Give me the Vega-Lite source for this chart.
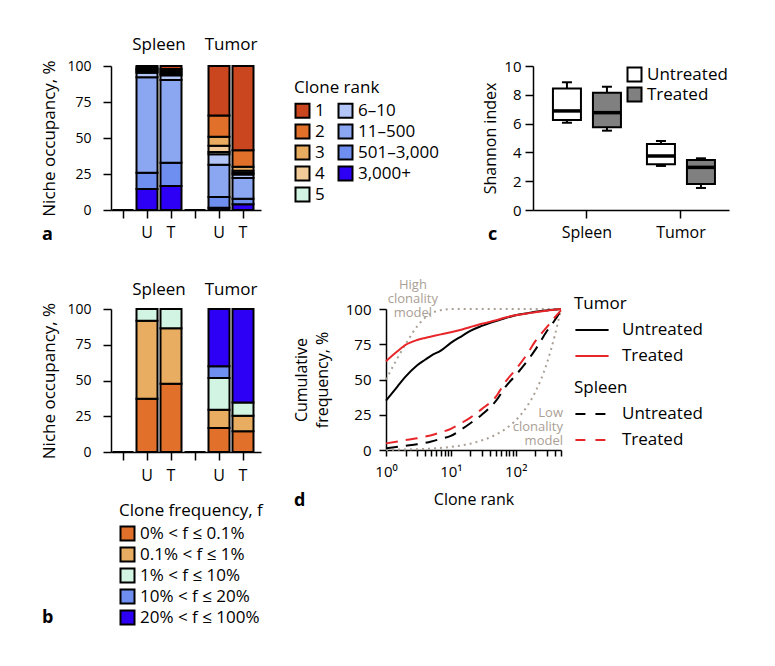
{
  "$schema": "https://vega.github.io/schema/vega-lite/v6.json",
  "background": "white",
  "padding": {"left": 40, "top": 36, "right": 5, "bottom": 5},
  "bounds": "flush",
  "spacing": 243,
  "config": {
    "font": "Open Sans",
    "view": {"stroke": null},
    "axis": {"labelFont": "Open Sans", "titleFont": "Open Sans", "labelFontSize": 14, "titleFontSize": 16, "titleFontWeight": "normal", "labelColor": "black", "titleColor": "black", "domainColor": "black", "tickColor": "black", "domainWidth": 1.5, "tickWidth": 1.5, "grid": false},
    "legend": {"labelFont": "Open Sans", "titleFont": "Open Sans", "labelFontSize": 16, "titleFontSize": 16, "titleFontWeight": "normal", "labelColor": "black", "titleColor": "black"},
    "title": {"font": "Open Sans", "fontSize": 18, "fontWeight": "bold", "color": "black"},
    "text": {"font": "Open Sans", "color": "black"}
  },
  "datasets": {
    "rankOcc": [
      {"slot": 1, "rank": "1", "k": 9, "v": 0},
      {"slot": 4, "rank": "1", "k": 9, "v": 0},
      {"slot": 2, "rank": "3,000+", "k": 1, "v": 14.5},
      {"slot": 2, "rank": "501–3,000", "k": 2, "v": 11.4},
      {"slot": 2, "rank": "11–500", "k": 3, "v": 66.3},
      {"slot": 2, "rank": "6–10", "k": 4, "v": 3.1},
      {"slot": 2, "rank": "5", "k": 5, "v": 0.9},
      {"slot": 2, "rank": "4", "k": 6, "v": 0.9},
      {"slot": 2, "rank": "3", "k": 7, "v": 0.9},
      {"slot": 2, "rank": "2", "k": 8, "v": 1.0},
      {"slot": 2, "rank": "1", "k": 9, "v": 1.0},
      {"slot": 3, "rank": "3,000+", "k": 1, "v": 16.6},
      {"slot": 3, "rank": "501–3,000", "k": 2, "v": 16.2},
      {"slot": 3, "rank": "11–500", "k": 3, "v": 57.5},
      {"slot": 3, "rank": "6–10", "k": 4, "v": 3.2},
      {"slot": 3, "rank": "5", "k": 5, "v": 1.1},
      {"slot": 3, "rank": "4", "k": 6, "v": 1.1},
      {"slot": 3, "rank": "3", "k": 7, "v": 1.1},
      {"slot": 3, "rank": "2", "k": 8, "v": 1.2},
      {"slot": 3, "rank": "1", "k": 9, "v": 2.0},
      {"slot": 5, "rank": "3,000+", "k": 1, "v": 1.5},
      {"slot": 5, "rank": "501–3,000", "k": 2, "v": 7.5},
      {"slot": 5, "rank": "11–500", "k": 3, "v": 22.5},
      {"slot": 5, "rank": "6–10", "k": 4, "v": 7.2},
      {"slot": 5, "rank": "5", "k": 5, "v": 1.6},
      {"slot": 5, "rank": "4", "k": 6, "v": 4.3},
      {"slot": 5, "rank": "3", "k": 7, "v": 6.3},
      {"slot": 5, "rank": "2", "k": 8, "v": 14.8},
      {"slot": 5, "rank": "1", "k": 9, "v": 34.3},
      {"slot": 6, "rank": "3,000+", "k": 1, "v": 4.0},
      {"slot": 6, "rank": "501–3,000", "k": 2, "v": 3.8},
      {"slot": 6, "rank": "11–500", "k": 3, "v": 14.5},
      {"slot": 6, "rank": "6–10", "k": 4, "v": 2.4},
      {"slot": 6, "rank": "5", "k": 5, "v": 1.0},
      {"slot": 6, "rank": "4", "k": 6, "v": 1.5},
      {"slot": 6, "rank": "3", "k": 7, "v": 2.9},
      {"slot": 6, "rank": "2", "k": 8, "v": 11.4},
      {"slot": 6, "rank": "1", "k": 9, "v": 58.5}
    ],
    "freqOcc": [
      {"slot": 1, "f": "0% < f ≤ 0.1%", "k": 1, "v": 0},
      {"slot": 4, "f": "0% < f ≤ 0.1%", "k": 1, "v": 0},
      {"slot": 2, "f": "0% < f ≤ 0.1%", "k": 1, "v": 37.3},
      {"slot": 2, "f": "0.1% < f ≤ 1%", "k": 2, "v": 54.5},
      {"slot": 2, "f": "1% < f ≤ 10%", "k": 3, "v": 8.2},
      {"slot": 3, "f": "0% < f ≤ 0.1%", "k": 1, "v": 47.8},
      {"slot": 3, "f": "0.1% < f ≤ 1%", "k": 2, "v": 38.7},
      {"slot": 3, "f": "1% < f ≤ 10%", "k": 3, "v": 13.5},
      {"slot": 5, "f": "0% < f ≤ 0.1%", "k": 1, "v": 16.8},
      {"slot": 5, "f": "0.1% < f ≤ 1%", "k": 2, "v": 12.8},
      {"slot": 5, "f": "1% < f ≤ 10%", "k": 3, "v": 22.1},
      {"slot": 5, "f": "10% < f ≤ 20%", "k": 4, "v": 8.2},
      {"slot": 5, "f": "20% < f ≤ 100%", "k": 5, "v": 40.1},
      {"slot": 6, "f": "0% < f ≤ 0.1%", "k": 1, "v": 14.5},
      {"slot": 6, "f": "0.1% < f ≤ 1%", "k": 2, "v": 10.9},
      {"slot": 6, "f": "1% < f ≤ 10%", "k": 3, "v": 9.3},
      {"slot": 6, "f": "20% < f ≤ 100%", "k": 5, "v": 65.3}
    ],
    "headers": [
      {"slot": 2, "label": "Spleen"},
      {"slot": 5, "label": "Tumor"}
    ],
    "shannon": [
      {"tissue": "Spleen", "cond": "Untreated", "lo": 6.06, "q1": 6.25, "med": 6.88, "q3": 8.43, "hi": 8.87},
      {"tissue": "Spleen", "cond": "Treated", "lo": 5.51, "q1": 5.74, "med": 6.76, "q3": 8.15, "hi": 8.56},
      {"tissue": "Tumor", "cond": "Untreated", "lo": 3.06, "q1": 3.17, "med": 3.75, "q3": 4.58, "hi": 4.79},
      {"tissue": "Tumor", "cond": "Treated", "lo": 1.53, "q1": 1.81, "med": 2.96, "q3": 3.47, "hi": 3.59}
    ],
    "cumfreq": [
      {"series": "TU", "tissue": "Tumor", "cond": "Untreated", "rank": 1, "cum": 35},
      {"series": "TU", "tissue": "Tumor", "cond": "Untreated", "rank": 1.5, "cum": 45},
      {"series": "TU", "tissue": "Tumor", "cond": "Untreated", "rank": 2, "cum": 52},
      {"series": "TU", "tissue": "Tumor", "cond": "Untreated", "rank": 3, "cum": 60},
      {"series": "TU", "tissue": "Tumor", "cond": "Untreated", "rank": 4, "cum": 64},
      {"series": "TU", "tissue": "Tumor", "cond": "Untreated", "rank": 5, "cum": 67},
      {"series": "TU", "tissue": "Tumor", "cond": "Untreated", "rank": 7, "cum": 70.5},
      {"series": "TU", "tissue": "Tumor", "cond": "Untreated", "rank": 10, "cum": 76},
      {"series": "TU", "tissue": "Tumor", "cond": "Untreated", "rank": 15, "cum": 81},
      {"series": "TU", "tissue": "Tumor", "cond": "Untreated", "rank": 20, "cum": 84.5},
      {"series": "TU", "tissue": "Tumor", "cond": "Untreated", "rank": 30, "cum": 88},
      {"series": "TU", "tissue": "Tumor", "cond": "Untreated", "rank": 50, "cum": 91.5},
      {"series": "TU", "tissue": "Tumor", "cond": "Untreated", "rank": 70, "cum": 93.6},
      {"series": "TU", "tissue": "Tumor", "cond": "Untreated", "rank": 100, "cum": 95.5},
      {"series": "TU", "tissue": "Tumor", "cond": "Untreated", "rank": 150, "cum": 97},
      {"series": "TU", "tissue": "Tumor", "cond": "Untreated", "rank": 200, "cum": 98},
      {"series": "TU", "tissue": "Tumor", "cond": "Untreated", "rank": 300, "cum": 99},
      {"series": "TU", "tissue": "Tumor", "cond": "Untreated", "rank": 500, "cum": 100},
      {"series": "TT", "tissue": "Tumor", "cond": "Treated", "rank": 1, "cum": 63},
      {"series": "TT", "tissue": "Tumor", "cond": "Treated", "rank": 1.5, "cum": 70},
      {"series": "TT", "tissue": "Tumor", "cond": "Treated", "rank": 2, "cum": 74.5},
      {"series": "TT", "tissue": "Tumor", "cond": "Treated", "rank": 3, "cum": 78},
      {"series": "TT", "tissue": "Tumor", "cond": "Treated", "rank": 4, "cum": 79.5},
      {"series": "TT", "tissue": "Tumor", "cond": "Treated", "rank": 5, "cum": 80.5},
      {"series": "TT", "tissue": "Tumor", "cond": "Treated", "rank": 7, "cum": 82},
      {"series": "TT", "tissue": "Tumor", "cond": "Treated", "rank": 10, "cum": 83.5},
      {"series": "TT", "tissue": "Tumor", "cond": "Treated", "rank": 15, "cum": 85.5},
      {"series": "TT", "tissue": "Tumor", "cond": "Treated", "rank": 20, "cum": 87.2},
      {"series": "TT", "tissue": "Tumor", "cond": "Treated", "rank": 30, "cum": 89.5},
      {"series": "TT", "tissue": "Tumor", "cond": "Treated", "rank": 50, "cum": 92},
      {"series": "TT", "tissue": "Tumor", "cond": "Treated", "rank": 70, "cum": 94},
      {"series": "TT", "tissue": "Tumor", "cond": "Treated", "rank": 100, "cum": 95.5},
      {"series": "TT", "tissue": "Tumor", "cond": "Treated", "rank": 150, "cum": 96.8},
      {"series": "TT", "tissue": "Tumor", "cond": "Treated", "rank": 200, "cum": 97.7},
      {"series": "TT", "tissue": "Tumor", "cond": "Treated", "rank": 300, "cum": 98.8},
      {"series": "TT", "tissue": "Tumor", "cond": "Treated", "rank": 500, "cum": 100},
      {"series": "SU", "tissue": "Spleen", "cond": "Untreated", "rank": 1, "cum": 1.2},
      {"series": "SU", "tissue": "Spleen", "cond": "Untreated", "rank": 2, "cum": 3},
      {"series": "SU", "tissue": "Spleen", "cond": "Untreated", "rank": 3, "cum": 4},
      {"series": "SU", "tissue": "Spleen", "cond": "Untreated", "rank": 4, "cum": 5},
      {"series": "SU", "tissue": "Spleen", "cond": "Untreated", "rank": 5, "cum": 6},
      {"series": "SU", "tissue": "Spleen", "cond": "Untreated", "rank": 7, "cum": 8},
      {"series": "SU", "tissue": "Spleen", "cond": "Untreated", "rank": 10, "cum": 10},
      {"series": "SU", "tissue": "Spleen", "cond": "Untreated", "rank": 15, "cum": 15},
      {"series": "SU", "tissue": "Spleen", "cond": "Untreated", "rank": 20, "cum": 19},
      {"series": "SU", "tissue": "Spleen", "cond": "Untreated", "rank": 30, "cum": 25},
      {"series": "SU", "tissue": "Spleen", "cond": "Untreated", "rank": 50, "cum": 35},
      {"series": "SU", "tissue": "Spleen", "cond": "Untreated", "rank": 70, "cum": 45},
      {"series": "SU", "tissue": "Spleen", "cond": "Untreated", "rank": 100, "cum": 53},
      {"series": "SU", "tissue": "Spleen", "cond": "Untreated", "rank": 150, "cum": 63},
      {"series": "SU", "tissue": "Spleen", "cond": "Untreated", "rank": 200, "cum": 71},
      {"series": "SU", "tissue": "Spleen", "cond": "Untreated", "rank": 300, "cum": 84},
      {"series": "SU", "tissue": "Spleen", "cond": "Untreated", "rank": 400, "cum": 92},
      {"series": "SU", "tissue": "Spleen", "cond": "Untreated", "rank": 500, "cum": 99},
      {"series": "ST", "tissue": "Spleen", "cond": "Treated", "rank": 1, "cum": 4.7},
      {"series": "ST", "tissue": "Spleen", "cond": "Treated", "rank": 2, "cum": 7},
      {"series": "ST", "tissue": "Spleen", "cond": "Treated", "rank": 3, "cum": 8.3},
      {"series": "ST", "tissue": "Spleen", "cond": "Treated", "rank": 4, "cum": 9.5},
      {"series": "ST", "tissue": "Spleen", "cond": "Treated", "rank": 5, "cum": 10.5},
      {"series": "ST", "tissue": "Spleen", "cond": "Treated", "rank": 7, "cum": 12.5},
      {"series": "ST", "tissue": "Spleen", "cond": "Treated", "rank": 10, "cum": 15},
      {"series": "ST", "tissue": "Spleen", "cond": "Treated", "rank": 15, "cum": 19.5},
      {"series": "ST", "tissue": "Spleen", "cond": "Treated", "rank": 20, "cum": 23},
      {"series": "ST", "tissue": "Spleen", "cond": "Treated", "rank": 30, "cum": 29},
      {"series": "ST", "tissue": "Spleen", "cond": "Treated", "rank": 50, "cum": 38},
      {"series": "ST", "tissue": "Spleen", "cond": "Treated", "rank": 70, "cum": 48.6},
      {"series": "ST", "tissue": "Spleen", "cond": "Treated", "rank": 100, "cum": 57},
      {"series": "ST", "tissue": "Spleen", "cond": "Treated", "rank": 150, "cum": 68},
      {"series": "ST", "tissue": "Spleen", "cond": "Treated", "rank": 200, "cum": 77},
      {"series": "ST", "tissue": "Spleen", "cond": "Treated", "rank": 300, "cum": 87},
      {"series": "ST", "tissue": "Spleen", "cond": "Treated", "rank": 400, "cum": 94},
      {"series": "ST", "tissue": "Spleen", "cond": "Treated", "rank": 500, "cum": 99},
      {"series": "High", "tissue": "Model", "cond": "High", "rank": 1, "cum": 50},
      {"series": "High", "tissue": "Model", "cond": "High", "rank": 2, "cum": 75},
      {"series": "High", "tissue": "Model", "cond": "High", "rank": 3, "cum": 87.5},
      {"series": "High", "tissue": "Model", "cond": "High", "rank": 4, "cum": 93.8},
      {"series": "High", "tissue": "Model", "cond": "High", "rank": 5, "cum": 96.9},
      {"series": "High", "tissue": "Model", "cond": "High", "rank": 6, "cum": 98.4},
      {"series": "High", "tissue": "Model", "cond": "High", "rank": 8, "cum": 99.6},
      {"series": "High", "tissue": "Model", "cond": "High", "rank": 10, "cum": 100},
      {"series": "High", "tissue": "Model", "cond": "High", "rank": 500, "cum": 100},
      {"series": "Low", "tissue": "Model", "cond": "Low", "rank": 1, "cum": 0.2},
      {"series": "Low", "tissue": "Model", "cond": "Low", "rank": 2, "cum": 0.4},
      {"series": "Low", "tissue": "Model", "cond": "Low", "rank": 5, "cum": 1},
      {"series": "Low", "tissue": "Model", "cond": "Low", "rank": 10, "cum": 2.2},
      {"series": "Low", "tissue": "Model", "cond": "Low", "rank": 20, "cum": 4.5},
      {"series": "Low", "tissue": "Model", "cond": "Low", "rank": 50, "cum": 11},
      {"series": "Low", "tissue": "Model", "cond": "Low", "rank": 70, "cum": 15},
      {"series": "Low", "tissue": "Model", "cond": "Low", "rank": 100, "cum": 21},
      {"series": "Low", "tissue": "Model", "cond": "Low", "rank": 150, "cum": 31},
      {"series": "Low", "tissue": "Model", "cond": "Low", "rank": 200, "cum": 41},
      {"series": "Low", "tissue": "Model", "cond": "Low", "rank": 300, "cum": 61},
      {"series": "Low", "tissue": "Model", "cond": "Low", "rank": 400, "cum": 81},
      {"series": "Low", "tissue": "Model", "cond": "Low", "rank": 500, "cum": 100}
    ],
    "notes": [
      {"which": "high", "note": ["High", "clonality", "model"], "rank": 2.6, "cum": 117},
      {"which": "low", "note": ["Low", "clonality", "model"], "rank": 500, "cum": 26.3}
    ]
  },
  "resolve": {"scale": {"color": "independent", "fill": "independent"}, "legend": {"color": "independent", "fill": "independent"}},
  "vconcat": [
    {
      "bounds": "flush",
      "spacing": 272,
      "resolve": {"scale": {"color": "independent", "fill": "independent"}, "legend": {"color": "independent", "fill": "independent"}},
      "hconcat": [
        {
          "width": 150,
          "height": 144,
          "title": {"text": "a", "orient": "bottom", "anchor": "start", "frame": "group", "dx": -69, "offset": -14},
          "encoding": {
            "x": {"field": "slot", "type": "ordinal", "scale": {"paddingInner": 0.125, "paddingOuter": 0.1875, "align": 0.167}, "axis": {"title": null, "labelAngle": 0, "tickSize": 8, "labelPadding": 6, "labelFontSize": 16, "labelExpr": "datum.value == 2 || datum.value == 5 ? 'U' : (datum.value == 3 || datum.value == 6 ? 'T' : '')"}}
          },
          "layer": [
            {
              "data": {"name": "rankOcc"},
              "mark": {"type": "bar", "stroke": "black", "strokeWidth": 2},
              "encoding": {
                "y": {"field": "v", "type": "quantitative", "stack": "zero", "scale": {"domain": [0, 100], "nice": false}, "axis": {"values": [0, 25, 50, 75, 100], "labelOverlap": false, "title": "Niche occupancy, %", "titleFontSize": 17, "tickSize": 8, "labelPadding": 12, "titlePadding": 8}},
                "color": {"field": "rank", "type": "nominal", "scale": {"domain": ["1", "2", "3", "4", "5", "6–10", "11–500", "501–3,000", "3,000+"], "range": ["#c9461f", "#e0702a", "#e8ad60", "#f2cc98", "#d2f5e3", "#b3c6f7", "#8ca7f2", "#6e8ef0", "#2d00f5"]}, "legend": {"title": "Clone rank", "orient": "none", "legendX": 183, "legendY": 14, "columns": 2, "columnPadding": 9, "rowPadding": -2, "symbolType": "square", "symbolSize": 196, "symbolStrokeColor": "black", "symbolStrokeWidth": 2, "symbolOpacity": 1, "titleFontSize": 17, "labelFontSize": 17, "titlePadding": 5}},
                "order": {"field": "k", "type": "quantitative"}
              }
            },
            {
              "data": {"name": "headers"},
              "mark": {"type": "text", "dx": 12, "dy": -21, "fontSize": 17, "baseline": "middle"},
              "encoding": {"y": {"datum": 100, "type": "quantitative", "axis": {"values": [0, 25, 50, 75, 100], "labelOverlap": false, "title": "Niche occupancy, %", "titleFontSize": 17, "tickSize": 8, "labelPadding": 12, "titlePadding": 8}}, "text": {"field": "label"}}
            }
          ]
        },
        {
          "width": 196,
          "height": 144,
          "title": {"text": "c", "orient": "bottom", "anchor": "start", "frame": "group", "dx": -45, "offset": -14},
          "data": {"name": "shannon"},
          "encoding": {
            "x": {"field": "tissue", "type": "nominal", "sort": ["Spleen", "Tumor"], "scale": {"paddingInner": 0.2, "paddingOuter": 0.1425, "align": 0.61}, "axis": {"title": null, "labelAngle": 0, "tickSize": 8, "labelPadding": 6, "labelFontSize": 16}},
            "xOffset": {"field": "cond", "type": "nominal", "sort": ["Untreated", "Treated"], "scale": {"paddingInner": 0.3, "paddingOuter": 0.09}}
          },
          "layer": [
            {
              "mark": {"type": "rule", "color": "black", "strokeWidth": 2},
              "encoding": {
                "y": {"field": "lo", "type": "quantitative", "scale": {"domain": [0, 10]}, "axis": {"values": [0, 2, 4, 6, 8, 10], "labelOverlap": false, "title": "Shannon index", "tickSize": 8, "labelPadding": 4, "titlePadding": 5, "labelFontSize": 15}},
                "y2": {"field": "hi"}
              }
            },
            {
              "mark": {"type": "bar", "stroke": "black", "strokeWidth": 2},
              "encoding": {
                "y": {"field": "q1", "type": "quantitative", "axis": {"values": [0, 2, 4, 6, 8, 10], "labelOverlap": false, "title": "Shannon index", "tickSize": 8, "labelPadding": 4, "titlePadding": 5, "labelFontSize": 15}},
                "y2": {"field": "q3"},
                "fill": {"field": "cond", "type": "nominal", "scale": {"domain": ["Untreated", "Treated"], "range": ["white", "#808080"]}, "legend": {"title": null, "orient": "none", "legendX": 93, "legendY": 0, "symbolType": "square", "symbolSize": 196, "symbolStrokeColor": "black", "symbolStrokeWidth": 2, "symbolOpacity": 1, "labelFontSize": 17, "rowPadding": -3}}
              }
            },
            {
              "mark": {"type": "tick", "color": "black", "opacity": 1, "thickness": 3.5, "size": 28},
              "encoding": {"y": {"field": "med", "type": "quantitative", "axis": {"values": [0, 2, 4, 6, 8, 10], "labelOverlap": false, "title": "Shannon index", "tickSize": 8, "labelPadding": 4, "titlePadding": 5, "labelFontSize": 15}}}
            },
            {
              "mark": {"type": "tick", "color": "black", "opacity": 1, "thickness": 2, "size": 10},
              "encoding": {"y": {"field": "hi", "type": "quantitative", "axis": {"values": [0, 2, 4, 6, 8, 10], "labelOverlap": false, "title": "Shannon index", "tickSize": 8, "labelPadding": 4, "titlePadding": 5, "labelFontSize": 15}}}
            },
            {
              "mark": {"type": "tick", "color": "black", "opacity": 1, "thickness": 2, "size": 10},
              "encoding": {"y": {"field": "lo", "type": "quantitative", "axis": {"values": [0, 2, 4, 6, 8, 10], "labelOverlap": false, "title": "Shannon index", "tickSize": 8, "labelPadding": 4, "titlePadding": 5, "labelFontSize": 15}}}
            }
          ]
        }
      ]
    },
    {
      "bounds": "flush",
      "spacing": 125,
      "resolve": {"scale": {"color": "independent", "fill": "independent"}, "legend": {"color": "independent", "fill": "independent"}},
      "hconcat": [
        {
          "width": 150,
          "height": 143,
          "title": {"text": "b", "orient": "bottom", "anchor": "start", "frame": "group", "dx": -69, "offset": -20},
          "encoding": {
            "x": {"field": "slot", "type": "ordinal", "scale": {"paddingInner": 0.125, "paddingOuter": 0.1875, "align": 0.167}, "axis": {"title": null, "labelAngle": 0, "tickSize": 8, "labelPadding": 7, "labelFontSize": 16, "labelExpr": "datum.value == 2 || datum.value == 5 ? 'U' : (datum.value == 3 || datum.value == 6 ? 'T' : '')"}}
          },
          "layer": [
            {
              "data": {"name": "freqOcc"},
              "mark": {"type": "bar", "stroke": "black", "strokeWidth": 2},
              "encoding": {
                "y": {"field": "v", "type": "quantitative", "stack": "zero", "scale": {"domain": [0, 100], "nice": false}, "axis": {"values": [0, 25, 50, 75, 100], "labelOverlap": false, "title": "Niche occupancy, %", "titleFontSize": 17, "tickSize": 8, "labelPadding": 12, "titlePadding": 8}},
                "color": {"field": "f", "type": "nominal", "scale": {"domain": ["0% < f ≤ 0.1%", "0.1% < f ≤ 1%", "1% < f ≤ 10%", "10% < f ≤ 20%", "20% < f ≤ 100%"], "range": ["#e0702a", "#e8ad60", "#d2f5e3", "#6e8ef0", "#2d00f5"]}, "legend": {"title": "Clone frequency, f", "orient": "none", "legendX": 8, "legendY": 194, "rowPadding": -2, "symbolType": "square", "symbolSize": 196, "symbolStrokeColor": "black", "symbolStrokeWidth": 2, "symbolOpacity": 1, "titleFontSize": 17, "labelFontSize": 17, "titlePadding": 5}},
                "order": {"field": "k", "type": "quantitative"}
              }
            },
            {
              "data": {"name": "headers"},
              "mark": {"type": "text", "dx": 12, "dy": -19, "fontSize": 17, "baseline": "middle"},
              "encoding": {"y": {"datum": 100, "type": "quantitative", "axis": {"values": [0, 25, 50, 75, 100], "labelOverlap": false, "title": "Niche occupancy, %", "titleFontSize": 17, "tickSize": 8, "labelPadding": 12, "titlePadding": 8}}, "text": {"field": "label"}}
            }
          ]
        },
        {
          "width": 175,
          "height": 141,
          "title": {"text": "d", "orient": "bottom", "anchor": "start", "frame": "group", "dx": -92, "offset": -15},
          "encoding": {
            "x": {"field": "rank", "type": "quantitative", "scale": {"type": "log", "domain": [1, 500], "nice": false}, "axis": {"title": "Clone rank", "values": [1, 2, 3, 4, 5, 6, 7, 8, 9, 10, 20, 30, 40, 50, 60, 70, 80, 90, 100, 200, 300, 400, 500], "labelExpr": "datum.value == 1 ? '10⁰' : datum.value == 10 ? '10¹' : datum.value == 100 ? '10²' : ''", "labelOverlap": false, "labelFlush": false, "tickSize": 6, "labelPadding": 8, "titlePadding": 12, "labelFontSize": 15}},
            "y": {"field": "cum", "type": "quantitative", "scale": {"domain": [0, 100]}, "axis": {"values": [0, 25, 50, 75, 100], "labelOverlap": false, "title": ["Cumulative", "frequency, %"], "titleLineHeight": 21, "tickSize": 7, "labelPadding": 8, "titlePadding": 15, "labelFontSize": 15}}
          },
          "layer": [
            {
              "data": {"name": "cumfreq"},
              "transform": [{"filter": "datum.tissue == 'Model'"}],
              "mark": {"type": "line", "color": "#aaa095", "strokeDash": [2, 4], "strokeWidth": 2, "interpolate": "monotone"},
              "encoding": {"detail": {"field": "series", "type": "nominal"}}
            },
            {
              "data": {"name": "cumfreq"},
              "transform": [{"filter": "datum.tissue == 'Spleen'"}],
              "mark": {"type": "line", "strokeDash": [12, 8], "strokeWidth": 2, "interpolate": "monotone"},
              "encoding": {"color": {"field": "cond", "type": "nominal", "scale": {"domain": ["Untreated", "Treated"], "range": ["black", "#e8262a"]}, "legend": {"title": "Spleen", "orient": "none", "legendX": 188, "legendY": 71, "symbolType": "stroke", "symbolSize": 1100, "symbolStrokeWidth": 2, "symbolDash": [10, 10], "labelFontSize": 17, "titleFontSize": 17, "labelOffset": 12, "rowPadding": -8, "titlePadding": -1}}}
            },
            {
              "data": {"name": "cumfreq"},
              "transform": [{"filter": "datum.tissue == 'Tumor'"}],
              "mark": {"type": "line", "strokeWidth": 2, "interpolate": "monotone"},
              "encoding": {"color": {"field": "cond", "type": "nominal", "scale": {"domain": ["Untreated", "Treated"], "range": ["black", "#e8262a"]}, "legend": {"title": "Tumor", "orient": "none", "legendX": 188, "legendY": -13, "symbolType": "stroke", "symbolSize": 1100, "symbolStrokeWidth": 2, "labelFontSize": 17, "titleFontSize": 17, "labelOffset": 12, "rowPadding": -8, "titlePadding": -1}}}
            },
            {
              "data": {"name": "notes"},
              "transform": [{"filter": "datum.which == 'high'"}],
              "mark": {"type": "text", "align": "center", "baseline": "middle", "fontSize": 13, "lineHeight": 14, "color": "#aaa095"},
              "encoding": {"text": {"field": "note"}}
            },
            {
              "data": {"name": "notes"},
              "transform": [{"filter": "datum.which == 'low'"}],
              "mark": {"type": "text", "align": "right", "baseline": "middle", "fontSize": 13, "lineHeight": 14, "color": "#aaa095", "dx": 2},
              "encoding": {"text": {"field": "note"}}
            }
          ],
          "resolve": {"scale": {"color": "independent"}, "legend": {"color": "independent"}}
        }
      ]
    }
  ]
}
